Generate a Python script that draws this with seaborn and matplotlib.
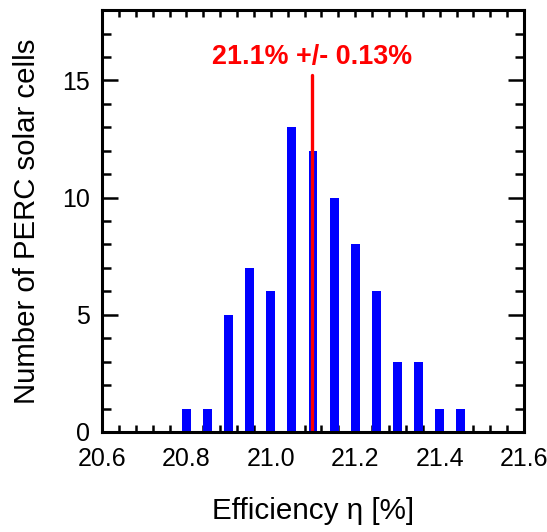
import matplotlib
matplotlib.use("Agg")
import matplotlib.pyplot as plt
import seaborn as sns
import numpy as np
from matplotlib.ticker import MultipleLocator

efficiency = [20.80, 20.85, 20.90, 20.95, 21.00, 21.05, 21.10, 21.15, 21.20, 21.25, 21.30, 21.35, 21.40, 21.45]
counts = [1, 1, 5, 7, 6, 13, 12, 10, 8, 6, 3, 3, 1, 1]
mean_eff = 21.097
annotation = "21.1% +/- 0.13%"
x_ticks = [20.6, 20.8, 21.0, 21.2, 21.4, 21.6]
y_ticks = [0, 5, 10, 15]

sns.set_style("ticks")
plt.rcParams['font.family'] = ['Liberation Sans', 'DejaVu Sans']
plt.rcParams['text.color'] = 'black'
plt.rcParams['axes.labelcolor'] = 'black'
plt.rcParams['xtick.color'] = 'black'
plt.rcParams['ytick.color'] = 'black'

fig = plt.figure(figsize=(5.47, 5.32), dpi=100)
ax = fig.add_axes([0.1865, 0.188, 0.958 - 0.1865, 0.981 - 0.188])

sns.barplot(x=efficiency, y=counts, native_scale=True, width=0.42,
            color="#0000ff", saturation=1, linewidth=0, ax=ax)

ax.plot([mean_eff, mean_eff], [0, 15.25], color="#ff0000", lw=2.4)
ax.text(mean_eff, 15.7, annotation, color="#ff0000", fontsize=19.4,
        fontweight="bold", ha="center", va="baseline")

ax.set_xlim(20.6, 21.6)
ax.set_ylim(0, 18)
ax.set_xticks(x_ticks)
ax.set_xticklabels([f"{t:.1f}" for t in x_ticks])
ax.set_yticks(y_ticks)
ax.xaxis.set_minor_locator(MultipleLocator(0.04))
ax.yaxis.set_minor_locator(MultipleLocator(1))

for s in ax.spines.values():
    s.set_visible(True)
    s.set_linewidth(2.2)
    s.set_color("black")

ax.tick_params(which="both", direction="in", top=True, right=True,
               color="black", width=1.8, labelsize=18, labelcolor="black")
ax.tick_params(axis="y", which="major", length=11.5, pad=8.5)
ax.tick_params(axis="y", which="minor", length=6.5)
ax.tick_params(axis="x", which="major", length=5, pad=11)
ax.tick_params(axis="x", which="minor", length=5)

ax.set_xlabel("Efficiency η [%]", fontsize=21.3, labelpad=18.5)
ax.set_ylabel("Number of PERC solar cells", fontsize=21.2)
ax.yaxis.set_label_coords(-0.145, 0.5)

fig.savefig("out.png", dpi=100)
